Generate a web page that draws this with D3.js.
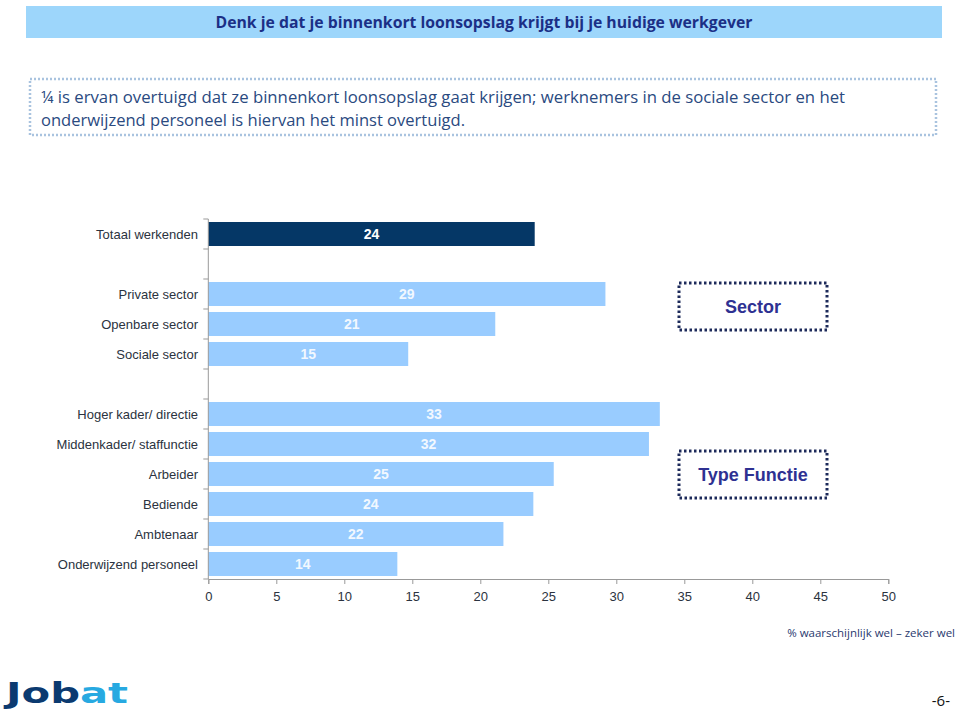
<!DOCTYPE html>
<html><head><meta charset="utf-8">
<script src="https://cdn.jsdelivr.net/npm/d3@7/dist/d3.min.js"></script>
<style>body{margin:0;background:#fff}svg{display:block}</style>
</head><body>
<script>
const categories = ["Totaal werkenden", "", "Private sector", "Openbare sector", "Sociale sector", " ",
  "Hoger kader/ directie", "Middenkader/ staffunctie", "Arbeider", "Bediende", "Ambtenaar", "Onderwijzend personeel"];
const values = [24.0, null, 29.2, 21.1, 14.7, null, 33.2, 32.4, 25.4, 23.9, 21.7, 13.9];
const valueLabels = ["24", "", "29", "21", "15", "", "33", "32", "25", "24", "22", "14"];
const xTicks = [0, 5, 10, 15, 20, 25, 30, 35, 40, 45, 50];
const title = "Denk je dat je binnenkort loonsopslag krijgt bij je huidige werkgever";
const subtitle = ["¼ is  ervan overtuigd dat ze binnenkort loonsopslag gaat krijgen; werknemers in de sociale sector en het",
  "onderwijzend personeel is hiervan het minst overtuigd."];
const groupLabels = ["Sector", "Type Functie"];
const axisNote = "% waarschijnlijk wel – zeker wel";

const W = 960, H = 720;
const svg = d3.select("body").append("svg").attr("width", W).attr("height", H);

// Title band
svg.append("rect").attr("x", 26).attr("y", 6).attr("width", 916).attr("height", 32).attr("fill", "#9dd6fb");
svg.append("text").attr("x", 484).attr("y", 28).attr("text-anchor", "middle")
  .attr("font-family", "Open Sans, sans-serif").attr("font-weight", "bold").attr("font-size", 15.5)
  .attr("fill", "#1b2f86").attr("textLength", 537).attr("lengthAdjust", "spacingAndGlyphs").text(title);

// Subtitle dotted box
svg.append("rect").attr("x", 30).attr("y", 79).attr("width", 906).attr("height", 56)
  .attr("fill", "none").attr("stroke", "#a9c3df").attr("stroke-width", 2.5).attr("stroke-dasharray", "2,2");
const subLens = [804, 424];
subtitle.forEach((s, i) => {
  svg.append("text").attr("x", 41).attr("y", 103 + i * 23)
    .attr("font-family", "Open Sans, sans-serif").attr("font-size", 16).attr("fill", "#2a4a7f")
    .attr("textLength", subLens[i]).attr("lengthAdjust", "spacingAndGlyphs").text(s);
});

// Chart
const x = d3.scaleLinear().domain([0, 50]).range([208.3, 888.3]);
const y = d3.scaleBand().domain(categories).range([219, 579]).paddingInner(0.2).paddingOuter(0.1);
const slot = y.step();
const rows = categories.map((c, i) => ({c, v: values[i], lab: valueLabels[i], i})).filter(d => d.v != null);

const g = svg.append("g");
g.selectAll("rect.bar").data(rows)
  .join("rect").attr("class", "bar")
  .attr("x", x(0)).attr("y", d => y(d.c)).attr("width", d => x(d.v) - x(0)).attr("height", y.bandwidth())
  .attr("fill", d => d.i === 0 ? "#053766" : "#99ccff");

g.selectAll("text.val").data(rows)
  .join("text").attr("class", "val")
  .attr("x", d => (x(0) + x(d.v)) / 2).attr("y", d => y(d.c) + y.bandwidth() / 2 + 5)
  .attr("text-anchor", "middle").attr("font-family", "Liberation Sans, Arial, sans-serif")
  .attr("font-size", 14).attr("font-weight", "bold").attr("fill", d => d.i === 0 ? "#ffffff" : "#f2f8ff")
  .text(d => d.lab);

// Y axis
const yAxisG = svg.append("g");
yAxisG.append("line").attr("x1", x(0)).attr("x2", x(0)).attr("y1", 219).attr("y2", 579).attr("stroke", "#999");
d3.range(13).forEach(k => {
  yAxisG.append("line").attr("x1", x(0) - 5).attr("x2", x(0)).attr("y1", 219 + k * slot).attr("y2", 219 + k * slot).attr("stroke", "#999");
});
yAxisG.selectAll("text").data(categories.filter(c => c.trim() !== "")).join("text")
  .attr("x", 198).attr("y", d => y(d) + y.bandwidth() / 2 + 4.5).attr("text-anchor", "end")
  .attr("font-family", "Liberation Sans, Arial, sans-serif").attr("font-size", 13).attr("fill", "#2b3340").text(d => d);

// X axis
const xAxis = d3.axisBottom(x).tickValues(xTicks).tickSize(5).tickPadding(8);
const xg = svg.append("g").attr("transform", "translate(0,579)").call(xAxis);
xg.select(".domain").attr("stroke", "#999");
xg.selectAll(".tick line").attr("stroke", "#999");
xg.selectAll(".tick text").attr("font-family", "Liberation Sans, Arial, sans-serif").attr("font-size", 13).attr("fill", "#2b3340");

// Group boxes
const boxes = [{label: groupLabels[0], cy: (y("Private sector") + y("Openbare sector") + y.bandwidth()) / 2 - 2.5},
               {label: groupLabels[1], cy: y("Arbeider") + y.bandwidth() / 2 + 0.5}];
boxes.forEach(b => {
  svg.append("rect").attr("x", 679).attr("y", b.cy - 23.5).attr("width", 148).attr("height", 47)
    .attr("fill", "none").attr("stroke", "#1d2a5a").attr("stroke-width", 3).attr("stroke-dasharray", "2.5,2.5");
  svg.append("text").attr("x", 753).attr("y", b.cy + 6.5).attr("text-anchor", "middle")
    .attr("font-family", "Liberation Sans, Arial, sans-serif").attr("font-weight", "bold").attr("font-size", 18)
    .attr("fill", "#2e3192").text(b.label);
});

// Axis note
svg.append("text").attr("x", 955).attr("y", 637).attr("text-anchor", "end").attr("font-family", "Open Sans, sans-serif").attr("font-size", 11.5)
  .attr("fill", "#2a3a6e").text(axisNote);

// Logo
const logo = svg.append("text").attr("x", 6).attr("y", 703).attr("font-family", "DejaVu Sans, sans-serif")
  .attr("font-weight", "bold").attr("font-size", 28).attr("textLength", 122).attr("lengthAdjust", "spacingAndGlyphs");
logo.append("tspan").attr("fill", "#0b3a70").text("Job");
logo.append("tspan").attr("fill", "#27a9e1").text("at");

svg.append("text").attr("x", 950).attr("y", 706).attr("text-anchor", "end").attr("font-family", "Open Sans, sans-serif")
  .attr("font-size", 15).attr("fill", "#111").text("-6-");
</script>
</body></html>
